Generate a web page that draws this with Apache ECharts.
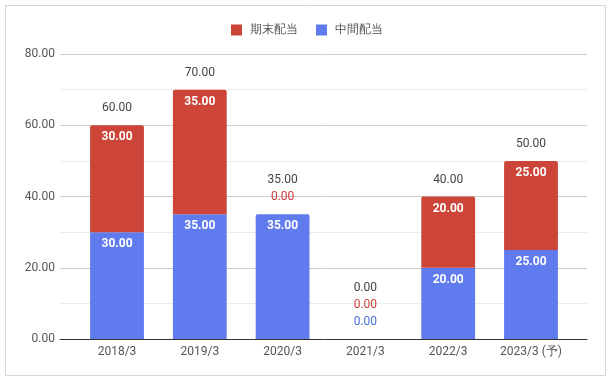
<!DOCTYPE html>
<html><head><meta charset="utf-8">
<script src="https://cdn.jsdelivr.net/npm/echarts@6/dist/echarts.min.js"></script>
<style>html,body{margin:0;padding:0;background:#fff}#c{width:614px;height:382px}</style>
</head><body><div id="c"></div>
<script>
const categories = ['2018/3','2019/3','2020/3','2021/3','2022/3','2023/3 (予)'];
const interim = [30, 35, 35, 0, 20, 25];   // 中間配当
const yearEnd = [30, 35, 0, 0, 20, 25];    // 期末配当
const totals  = [60, 70, 35, 0, 40, 50];
const yTicks = [0, 20, 40, 60, 80];

const RED = '#cd4439', BLUE = '#5f7bee';
const FONT = 'Roboto, Arial, sans-serif';
const D0 = 11, STEP = 17;

const fmt = v => Number(v).toFixed(2);

const blueData = interim.map((v,i) => ({
  value: v,
  itemStyle: {borderRadius: yearEnd[i] === 0 && v > 0 ? [2,2,0,0] : 0},
  label: v > 0
    ? {show: true, position: 'insideTop', distance: 6, color: '#fff', fontWeight: 'bold', fontSize: 12, fontFamily: FONT, formatter: fmt(v)}
    : {show: true, position: 'top', distance: D0, color: '#4a6fdc', fontSize: 12, fontFamily: FONT, formatter: fmt(v)}
}));
const redData = yearEnd.map((v,i) => {
  const below = interim[i] === 0 ? 1 : 0;
  return {
    value: v,
    itemStyle: {borderRadius: [2,2,0,0]},
    label: v > 0
      ? {show: true, position: 'insideTop', distance: 6, color: '#fff', fontWeight: 'bold', fontSize: 12, fontFamily: FONT, formatter: fmt(v)}
      : {show: true, position: 'top', distance: D0 + STEP*below, color: '#cc4137', fontSize: 12, fontFamily: FONT, formatter: fmt(v)}
  };
});
const totalData = totals.map((t,i) => {
  const zeros = (interim[i] === 0 ? 1 : 0) + (yearEnd[i] === 0 ? 1 : 0);
  return {
    value: 0,
    label: {show: true, position: 'top', distance: D0 + STEP*zeros, color: '#444', fontSize: 12, fontFamily: FONT, formatter: fmt(t)}
  };
});

const chart = echarts.init(document.getElementById('c'), null, {renderer: 'canvas'});
chart.setOption({
  animation: false,
  textStyle: {fontFamily: FONT},
  graphic: [{type: 'rect', shape: {x: 5.5, y: 5.5, width: 600, height: 370}, style: {fill: 'none', stroke: '#d6d6d6', lineWidth: 1}, silent: true, z: -1}],
  legend: {
    top: 19, left: 'center', itemWidth: 11, itemHeight: 11, itemGap: 18, icon: 'rect',
    data: ['期末配当','中間配当'],
    textStyle: {color: '#555', fontSize: 12, fontFamily: FONT, padding: [0,0,0,3]}
  },
  grid: [
    {left: 60, right: 27, top: 54, bottom: 43},
    {left: 75.6, right: 41.6, top: 54, bottom: 43}
  ],
  xAxis: [
    {gridIndex: 0, type: 'category', data: [''], axisLine: {show: true, lineStyle: {color: '#333', width: 1}}, axisTick: {show: false}, axisLabel: {show: false}, splitLine: {show: false}, z: 5},
    {gridIndex: 1, type: 'category', data: categories, axisLine: {show: false}, axisTick: {show: false},
     axisLabel: {color: '#555', fontSize: 12, fontFamily: FONT, margin: 7}}
  ],
  yAxis: [
    {gridIndex: 0, type: 'value', min: yTicks[0], max: yTicks[yTicks.length-1], interval: 20,
     axisLine: {show: false}, axisTick: {show: false},
     axisLabel: {color: '#555', fontSize: 12, fontFamily: FONT, margin: 5, formatter: v => fmt(v)},
     splitLine: {lineStyle: {color: '#cccccc'}},
     minorTick: {show: false, splitNumber: 2},
     minorSplitLine: {show: true, lineStyle: {color: '#ebebeb'}}},
    {gridIndex: 1, type: 'value', min: yTicks[0], max: yTicks[yTicks.length-1], interval: 20, show: false, splitLine: {show: false}}
  ],
  series: [
    {name: '中間配当', type: 'bar', xAxisIndex: 1, yAxisIndex: 1, stack: 'a', barWidth: '65%', itemStyle: {color: BLUE}, data: blueData, z: 3},
    {name: '期末配当', type: 'bar', xAxisIndex: 1, yAxisIndex: 1, stack: 'a', barWidth: '65%', itemStyle: {color: RED}, data: redData, z: 3},
    {name: '合計', type: 'bar', xAxisIndex: 1, yAxisIndex: 1, stack: 'a', barWidth: '65%', itemStyle: {color: 'rgba(0,0,0,0)'}, data: totalData, z: 3}
  ]
});
</script></body></html>
